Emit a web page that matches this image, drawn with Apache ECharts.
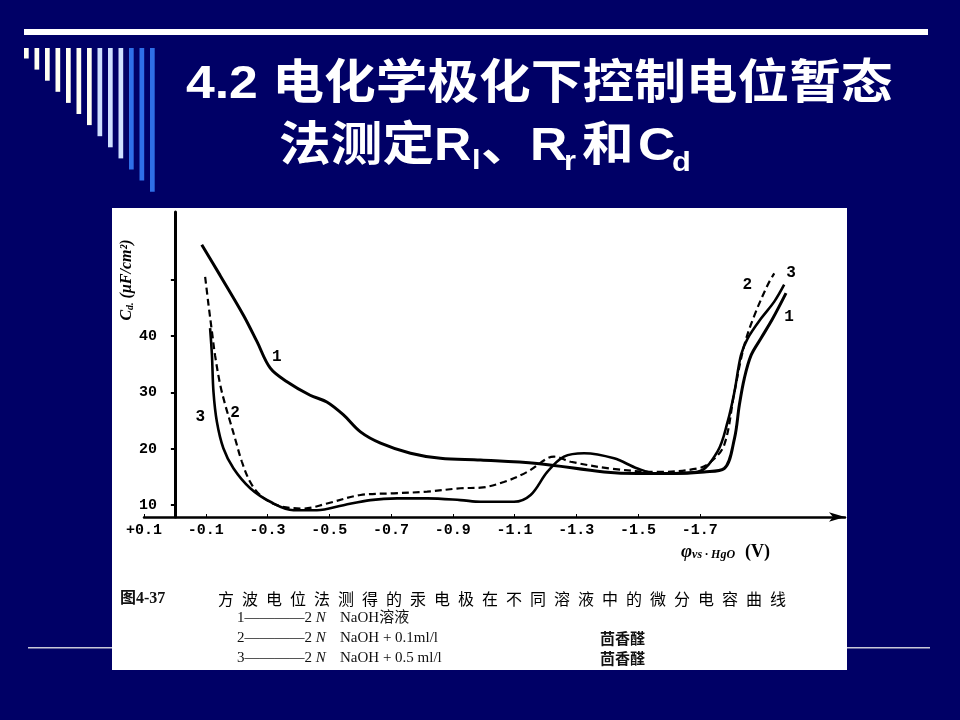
<!DOCTYPE html>
<html>
<head>
<meta charset="utf-8">
<script src="https://cdn.jsdelivr.net/npm/echarts@6/dist/echarts.min.js"></script>
<style>
html,body{margin:0;padding:0;background:#000066;}
#main{width:960px;height:720px;}
</style>
</head>
<body>
<div id="main"></div>
<script>
// potential (V vs HgO) , Cd (uF/cm2)
var curve1 = [[-0.087,56.2],[-0.146,50.8],[-0.222,43.7],[-0.266,39.0],[-0.309,34.3],[-0.363,31.9],[-0.438,29.5],[-0.492,28.3],[-0.546,26.0],[-0.601,23.0],[-0.666,21.0],[-0.763,19.2],[-0.860,18.3],[-0.990,18.0],[-1.173,17.4],[-1.390,15.9],[-1.498,15.6],[-1.606,15.6],[-1.714,15.9],[-1.779,16.5],[-1.812,21.8],[-1.828,27.8],[-1.844,32.5],[-1.866,36.6],[-1.898,39.6],[-1.936,43.1],[-1.979,47.6]];
var curve2 = [[-0.098,50.5],[-0.109,45.5],[-0.120,40.8],[-0.130,36.6],[-0.147,31.3],[-0.163,27.8],[-0.179,24.8],[-0.195,21.8],[-0.217,17.7],[-0.244,14.1],[-0.276,11.8],[-0.330,10.0],[-0.417,9.4],[-0.493,10.3],[-0.601,11.8],[-0.709,12.1],[-0.817,12.4],[-0.925,13.0],[-0.990,13.1],[-1.065,14.1],[-1.141,15.9],[-1.206,18.3],[-1.228,18.6],[-1.282,17.7],[-1.411,16.5],[-1.563,15.9],[-1.692,16.5],[-1.736,17.7],[-1.779,20.7],[-1.812,30.1],[-1.844,38.4],[-1.877,43.7],[-1.920,49.1],[-1.941,51.1]];
var curve3 = [[-0.114,41.4],[-0.120,36.6],[-0.125,30.1],[-0.136,24.8],[-0.157,20.1],[-0.190,16.5],[-0.244,13.0],[-0.309,10.6],[-0.384,9.1],[-0.460,9.1],[-0.546,10.0],[-0.633,10.9],[-0.720,11.2],[-0.817,11.2],[-0.925,10.9],[-0.990,10.6],[-1.098,10.6],[-1.152,11.8],[-1.206,15.9],[-1.260,18.6],[-1.325,19.2],[-1.422,18.3],[-1.498,16.5],[-1.563,15.6],[-1.692,15.9],[-1.757,19.5],[-1.790,24.8],[-1.812,30.1],[-1.833,36.6],[-1.855,39.6],[-1.898,43.1],[-1.941,46.1],[-1.973,49.1]];

// curve number labels [potential, Cd, text]
var labels1 = [[-0.330,36.3,'1'],[-1.989,43.4,'1']];
var labels2 = [[-0.195,26.3,'2'],[-1.854,49.1,'2']];
var labels3 = [[-0.082,25.7,'3'],[-1.995,51.1,'3']];

var xTicks = [0.1,-0.1,-0.3,-0.5,-0.7,-0.9,-1.1,-1.3,-1.5,-1.7];
var yTicks = [10,20,30,40];
var yMarks = [10,20,30,40,50];

// legend rows: number, solution, additive
var legendNum = ['1', '2', '3'];
var legendSol = ['NaOH溶液', 'NaOH + 0.1ml/l', 'NaOH + 0.5 ml/l'];
var legendAdd = ['', '茴香醛', '茴香醛'];

var serif = '"Liberation Serif", "Noto Sans CJK SC", serif';
var mono = '"Liberation Mono", monospace';

function fmtX(v){
    return (v > 0 ? '+' : '-') + Math.abs(v).toFixed(1);
}

function markLabels(arr){
    return {
        symbol: 'circle',
        symbolSize: 1,
        itemStyle: {color: 'transparent'},
        label: {show: true, position: 'inside', formatter: '{b}', color: '#000',
                fontFamily: mono, fontWeight: 'bold', fontSize: 16},
        data: arr.map(function(p){ return {name: p[2], coord: [p[0], p[1]]}; })
    };
}

// slide decoration
var graphics = [];
graphics.push({type: 'rect', z: -20, shape: {x: 28, y: 647, width: 902, height: 1.5}, style: {fill: '#c8c8d8'}});
graphics.push({type: 'rect', z: -10, shape: {x: 112, y: 208, width: 735, height: 462}, style: {fill: '#ffffff'}});
graphics.push({type: 'rect', shape: {x: 24, y: 29, width: 904, height: 6}, style: {fill: '#ffffff'}});
for (var i = 0; i < 13; i++) {
    var c = i < 7 ? '#fffff2' : (i < 10 ? '#cfe0ff' : '#2f6fe8');
    graphics.push({type: 'rect', shape: {x: 24 + i * 10.5, y: 48, width: 4.7, height: 10.5 + i * 11.1}, style: {fill: c}});
}

// title
var tFont = 'bold 47px "Liberation Sans", "Noto Sans CJK SC", sans-serif';
var sFont = 'bold 28px "Liberation Sans", "Noto Sans CJK SC", sans-serif';
function ttl(x, y, t, f){
    return {type: 'text', x: x, y: y, z: 10, scaleX: 1.1,
            style: {text: t, fill: '#ffffff', font: f, textAlign: 'left', textVerticalAlign: 'middle'}};
}
graphics.push(ttl(186, 85, '4.2 电化学极化下控制电位暂态', tFont));
graphics.push(ttl(279, 147, '法测定', tFont));
graphics.push(ttl(434, 147, 'R', tFont));
graphics.push(ttl(472, 161, 'l', sFont));
graphics.push(ttl(481, 147, '、', tFont));
graphics.push(ttl(530, 147, 'R', tFont));
graphics.push(ttl(564, 162, 'r', sFont));
graphics.push(ttl(582, 147, '和', tFont));
graphics.push(ttl(638, 147, 'C', tFont));
graphics.push(ttl(672, 163, 'd', sFont));

// axis names
graphics.push({type: 'text', x: 127, y: 280, rotation: Math.PI / 2, z: 10,
    style: {text: '{c|C}{s|d.}{c| (μF/cm²)}', textAlign: 'center', textVerticalAlign: 'middle', fill: '#000',
        rich: {c: {fontFamily: serif, fontStyle: 'italic', fontWeight: 'bold', fontSize: 16, fill: '#000'},
               s: {fontFamily: serif, fontStyle: 'italic', fontWeight: 'bold', fontSize: 10, fill: '#000', padding: [7, 0, 0, 0]}}}});
graphics.push({type: 'text', x: 681, y: 552, z: 10,
    style: {text: '{p|φ}{s|vs · HgO}   {b|(V)}', textAlign: 'left', textVerticalAlign: 'middle', fill: '#000',
        rich: {p: {fontFamily: serif, fontStyle: 'italic', fontWeight: 'bold', fontSize: 19, fill: '#000'},
               s: {fontFamily: serif, fontStyle: 'italic', fontWeight: 'bold', fontSize: 12, fill: '#000', padding: [5, 0, 0, 0]},
               b: {fontFamily: serif, fontWeight: 'bold', fontSize: 18, fill: '#000'}}}});

// caption
graphics.push({type: 'text', x: 120, y: 599, z: 10,
    style: {text: '图4-37', font: 'bold 16px ' + serif, fill: '#111', textVerticalAlign: 'middle'}});
graphics.push({type: 'text', x: 218, y: 599, z: 10,
    style: {text: '方波电位法测得的汞电极在不同溶液中的微分电容曲线'.split('').join('\u2002'),
            font: '16px "Noto Sans CJK SC", sans-serif', fill: '#000', textVerticalAlign: 'middle'}});
legendNum.forEach(function(n, k){
    var y = 618 + k * 20;
    graphics.push({type: 'text', x: 237, y: y, z: 10,
        style: {text: '{n|' + n + '}{n|————}{n|2 }{i|N}', textVerticalAlign: 'middle', fill: '#111',
            rich: {n: {fontFamily: serif, fontSize: 15, fill: '#111'},
                   i: {fontFamily: serif, fontStyle: 'italic', fontSize: 15, fill: '#111'}}}});
    graphics.push({type: 'text', x: 340, y: y, z: 10,
        style: {text: legendSol[k], font: '15px ' + serif, fill: '#111', textVerticalAlign: 'middle'}});
    graphics.push({type: 'text', x: 600, y: y, z: 10,
        style: {text: legendAdd[k], font: 'bold 15px "Noto Sans CJK SC", sans-serif', fill: '#111', textVerticalAlign: 'middle'}});
});

var myChart = echarts.init(document.getElementById('main'));
var option = {
    backgroundColor: '#000066',
    animation: false,
    grid: {left: 144, right: 115, top: 212, bottom: 203, containLabel: false, outerBoundsMode: 'none'},
    xAxis: {
        type: 'value', inverse: true, min: -2.17, max: 0.1,
        splitLine: {show: false},
        axisLine: {onZero: false, symbol: ['none', 'arrow'], symbolSize: [7, 16], lineStyle: {color: '#000', width: 2.5}},
        axisTick: {show: true, inside: true, length: 3, customValues: xTicks, lineStyle: {color: '#000'}},
        axisLabel: {customValues: xTicks, formatter: fmtX, color: '#000', fontFamily: mono,
                    fontWeight: 'bold', fontSize: 15, margin: 6, showMinLabel: true, showMaxLabel: true}
    },
    yAxis: {
        type: 'value', min: 7.9, max: 62,
        splitLine: {show: false},
        axisLine: {onZero: true, lineStyle: {color: '#000', width: 3}},
        axisTick: {show: true, length: 4, customValues: yMarks, lineStyle: {color: '#000', width: 2}},
        axisLabel: {customValues: yTicks, color: '#000', fontFamily: mono, fontWeight: 'bold',
                    fontSize: 15, margin: -13}
    },
    graphic: graphics,
    series: [
        {name: '1', type: 'line', data: curve1, showSymbol: false, smooth: 0.35,
         lineStyle: {color: '#000', width: 3}, markPoint: markLabels(labels1)},
        {name: '2', type: 'line', data: curve2, showSymbol: false, smooth: 0.35,
         lineStyle: {color: '#000', width: 2.2, type: [7, 4]}, markPoint: markLabels(labels2)},
        {name: '3', type: 'line', data: curve3, showSymbol: false, smooth: 0.35,
         lineStyle: {color: '#000', width: 2.6}, markPoint: markLabels(labels3)}
    ]
};
myChart.setOption(option);
</script>
</body>
</html>
